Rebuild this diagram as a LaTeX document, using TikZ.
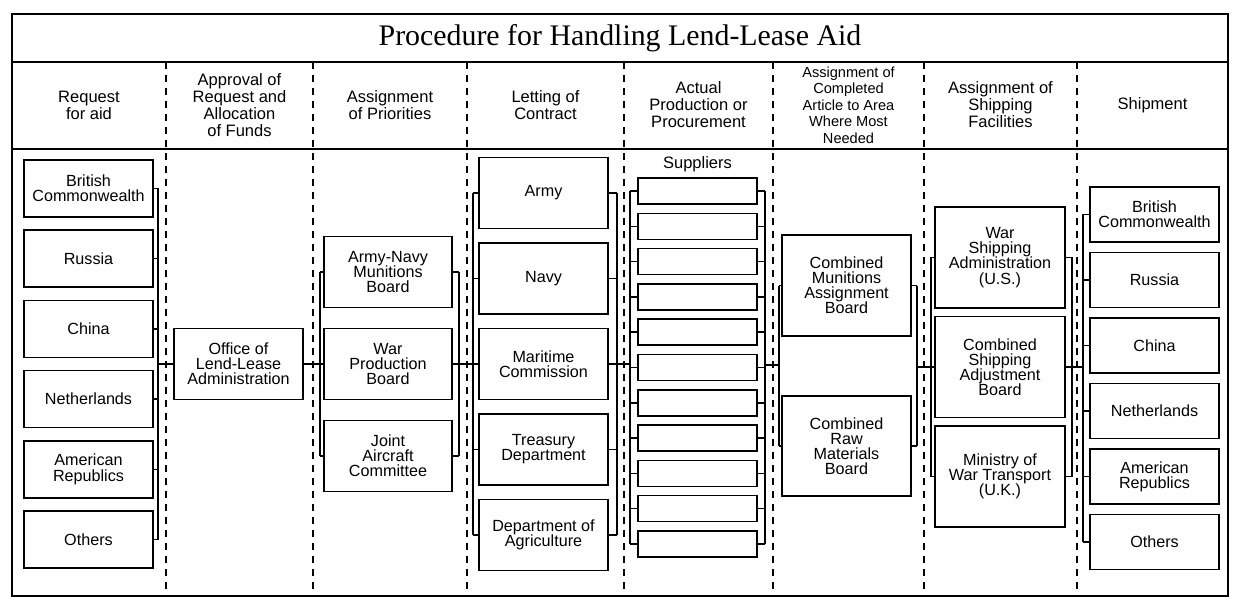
\documentclass[tikz,border=0pt]{standalone}
\usepackage{fontspec}
\setmainfont{Liberation Sans}
\newfontfamily\titlefont{Liberation Serif}
\usetikzlibrary{calc}
\tikzset{
  box/.style={draw,line width=0.9pt,inner sep=1pt,align=center,
    font=\fontsize{9.2}{8.6}\selectfont},
  head/.style={align=center,font=\fontsize{9.4}{9.7}\selectfont},
  bus/.style={line width=0.8pt},
  divider/.style={line width=0.9pt,dash pattern=on 4pt off 3.4pt}
}

\begin{document}
\begin{tikzpicture}[x=0.02cm,y=-0.02cm]
    \useasboundingbox (0,0) rectangle (1239,604);
    \draw[line width=1.6pt] (12,14) rectangle (1228,596);
    \draw[line width=1.1pt] (12,62) -- (1228,62);
    \draw[line width=1.1pt] (12,149) -- (1228,149);
    \node[font=\titlefont\fontsize{17}{20}\selectfont] (title) at (620,38)
      {Procedure for Handling Lend-Lease Aid};
    \foreach \x in {166,313,467,624,773,924,1077}
      \draw[divider] (\x,62) -- (\x,596);
    % column heads
    \node[head] (h1) at (89,105) {Request\\for aid};
    \node[head] (h2) at (239.5,105) {Approval of\\Request and\\Allocation\\of Funds};
    \node[head] (h3) at (390,105) {Assignment\\of Priorities};
    \node[head] (h4) at (545.5,105) {Letting of\\Contract};
    \node[head] (h5) at (698.5,105) {Actual\\Production or\\Procurement};
    \node[head,font=\fontsize{8.3}{9.4}\selectfont] (h6) at (848.5,105)
      {Assignment of\\Completed\\Article to Area\\Where Most\\Needed};
    \node[head] (h7) at (1000.5,105) {Assignment of\\Shipping\\Facilities};
    \node[head] (h8) at (1152.5,105) {Shipment};
    % bus points
    \coordinate (b1) at (158,364);
    \coordinate (b2) at (320,364);
    \coordinate (b3) at (459,364);
    \coordinate (b4) at (473,364);
    \coordinate (b5) at (617,364);
    \coordinate (b6) at (630,364);
    \coordinate (b7) at (765,365);
    \coordinate (b8) at (779,365);
    \coordinate (b9) at (917,367);
    \coordinate (b10) at (931,367);
    \coordinate (b11) at (1072,367);
    \coordinate (b12) at (1083,367);
    % request for aid
    \foreach \t [count=\i] in {British\\Commonwealth,Russia,China,Netherlands,American\\Republics,Others}
      \node[box,minimum width=2.58cm,minimum height=1.14cm] (req\i) at (88.5,{188.5+70.2*(\i-1)}) {\t};
    \foreach \i in {1,...,6}
      \draw[bus] (req\i.east) -- (req\i.east -| b1);
    \draw[bus] (req1.east -| b1) -- (req6.east -| b1);
    % approval
    \node[box,minimum width=2.58cm,minimum height=1.42cm] (office) at (238.5,364)
      {Office of\\Lend-Lease\\Administration};
    \draw[bus] (b1) -- (office.west);
    \draw[bus] (office.east) -- (b2);
    % priorities
    \node[box,minimum width=2.56cm,minimum height=1.42cm] (pri1) at (388,272) {Army-Navy\\Munitions\\Board};
    \node[box,minimum width=2.56cm,minimum height=1.42cm] (pri2) at (388,364) {War\\Production\\Board};
    \node[box,minimum width=2.56cm,minimum height=1.42cm] (pri3) at (388,456) {Joint\\Aircraft\\Committee};
    \foreach \i in {1,2,3} {
      \draw[bus] (pri\i.west) -- (pri\i.west -| b2);
      \draw[bus] (pri\i.east) -- (pri\i.east -| b3);
    }
    \draw[bus] (pri1.west -| b2) -- (pri3.west -| b2);
    \draw[bus] (pri1.east -| b3) -- (pri3.east -| b3);
    \draw[bus] (b3) -- (b4);
    % contracts
    \foreach \t [count=\i] in {Army,Navy,Maritime\\Commission,Treasury\\Department,Department of\\Agriculture}
      \node[box,minimum width=2.58cm,minimum height=1.42cm] (con\i) at (543.5,{193+85.5*(\i-1)}) {\t};
    \foreach \i in {1,...,5} {
      \draw[bus] (con\i.west) -- (con\i.west -| b4);
      \draw[bus] (con\i.east) -- (con\i.east -| b5);
    }
    \draw[bus] (con1.west -| b4) -- (con5.west -| b4);
    \draw[bus] (con1.east -| b5) -- (con5.east -| b5);
    \draw[bus] (b5) -- (b6);
    % suppliers
    \node[head] (suppliers) at (697.5,164) {Suppliers};
    \foreach \i in {1,...,11} {
      \node[box,minimum width=2.38cm,minimum height=0.52cm] (sup\i) at (697.5,{191+35.3*(\i-1)}) {};
      \draw[bus] (sup\i.west) -- (sup\i.west -| b6);
      \draw[bus] (sup\i.east) -- (sup\i.east -| b7);
    }
    \draw[bus] (sup1.west -| b6) -- (sup11.west -| b6);
    \draw[bus] (sup1.east -| b7) -- (sup11.east -| b7);
    \draw[bus] (b7) -- (b8);
    % assignment boards
    \node[box,minimum width=2.58cm,minimum height=2.02cm] (cmab) at (846.5,285.5)
      {Combined\\Munitions\\Assignment\\Board};
    \node[box,minimum width=2.58cm,minimum height=2.0cm] (crmb) at (846.5,446)
      {Combined\\Raw\\Materials\\Board};
    \foreach \n in {cmab,crmb} {
      \draw[bus] (\n.west) -- (\n.west -| b8);
      \draw[bus] (\n.east) -- (\n.east -| b9);
    }
    \draw[bus] (cmab.west -| b8) -- (crmb.west -| b8);
    \draw[bus] (cmab.east -| b9) -- (crmb.east -| b9);
    \draw[bus] (b9) -- (b10);
    % shipping
    \foreach \t [count=\i] in {War\\Shipping\\Administration\\(U.S.),Combined\\Shipping\\Adjustment\\Board,Ministry of\\War Transport\\(U.K.)}
      \node[box,minimum width=2.6cm,minimum height=2.02cm] (ship\i) at (1000,{257.5+109.5*(\i-1)}) {\t};
    \foreach \i in {1,2,3} {
      \draw[bus] (ship\i.west) -- (ship\i.west -| b10);
      \draw[bus] (ship\i.east) -- (ship\i.east -| b11);
    }
    \draw[bus] (ship1.west -| b10) -- (ship3.west -| b10);
    \draw[bus] (ship1.east -| b11) -- (ship3.east -| b11);
    \draw[bus] (b11) -- (b12);
    % shipment
    \foreach \t [count=\i] in {British\\Commonwealth,Russia,China,Netherlands,American\\Republics,Others}
      \node[box,minimum width=2.58cm,minimum height=1.1cm] (dest\i) at (1154.5,{214.5+65.5*(\i-1)}) {\t};
    \foreach \i in {1,...,6}
      \draw[bus] (dest\i.west) -- (dest\i.west -| b12);
    \draw[bus] (dest1.west -| b12) -- (dest6.west -| b12);
\end{tikzpicture}
\end{document}
